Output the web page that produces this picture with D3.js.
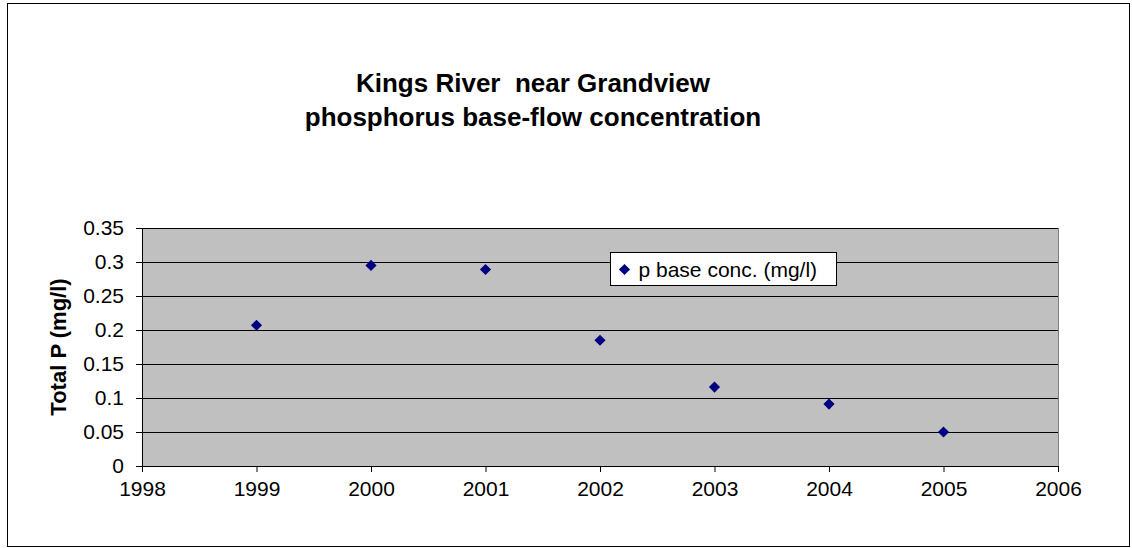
<!DOCTYPE html>
<html>
<head>
<meta charset="utf-8">
<script src="https://cdn.jsdelivr.net/npm/d3@7"></script>
<style>
  body { margin: 0; background: #fff; }
  text { font-family: "Liberation Sans", Arial, sans-serif; }
</style>
</head>
<body>
<div id="chart"></div>
<script>
// Data
var years = [1999, 2000, 2001, 2002, 2003, 2004, 2005];
var pBase = [0.207, 0.295, 0.289, 0.185, 0.116, 0.091, 0.050];
var xTicks = [1998, 1999, 2000, 2001, 2002, 2003, 2004, 2005, 2006];
var yTicks = [0, 0.05, 0.1, 0.15, 0.2, 0.25, 0.3, 0.35];
var titleLines = ["Kings River  near Grandview", "phosphorus base-flow concentration"];
var seriesName = "p base conc. (mg/l)";

var svgWidth = 1132;
var svgHeight = 548;

// plot area
var margin = { top: 228, right: 74, bottom: 82, left: 142 };
var width = svgWidth - margin.left - margin.right;
var height = svgHeight - margin.top - margin.bottom;

var svg = d3.select("#chart")
  .append("svg")
  .attr("width", svgWidth)
  .attr("height", svgHeight);

// outer chart border
svg.append("rect")
  .attr("x", 7.5)
  .attr("y", 3.5)
  .attr("width", 1122)
  .attr("height", 543)
  .attr("fill", "#fff")
  .attr("stroke", "#000")
  .attr("stroke-width", 1);

// title
svg.append("text")
  .attr("x", 533)
  .attr("y", 92)
  .attr("text-anchor", "middle")
  .style("font-size", "26px")
  .style("font-weight", "bold")
  .selectAll("tspan")
  .data(titleLines)
  .enter()
  .append("tspan")
  .attr("x", 533)
  .attr("dy", (d, i) => i === 0 ? 0 : 34)
  .attr("xml:space", "preserve")
  .text(d => d);

var chartGroup = svg.append("g")
  .attr("transform", `translate(${margin.left}, ${margin.top})`);

var xScale = d3.scaleLinear()
  .domain([1998, 2006])
  .range([0, width]);

var yScale = d3.scaleLinear()
  .domain([0, 0.35])
  .range([height, 0]);

// plot background
chartGroup.append("rect")
  .attr("width", width)
  .attr("height", height)
  .attr("fill", "#c0c0c0");

// gridlines
chartGroup.selectAll(".grid")
  .data(yTicks.filter(d => d > 0))
  .enter()
  .append("line")
  .attr("x1", 0)
  .attr("x2", width)
  .attr("y1", d => Math.round(yScale(d)) + 0.5)
  .attr("y2", d => Math.round(yScale(d)) + 0.5)
  .attr("stroke", "#000")
  .attr("stroke-width", 1);

// right edge of plot area
chartGroup.append("line")
  .attr("x1", width + 0.5).attr("x2", width + 0.5)
  .attr("y1", 0).attr("y2", height)
  .attr("stroke", "#808080");

// axes
var bottomAxis = d3.axisBottom(xScale)
  .tickValues(xTicks)
  .tickFormat(d3.format("d"))
  .tickSizeInner(6)
  .tickSizeOuter(0)
  .tickPadding(9);

var leftAxis = d3.axisLeft(yScale)
  .tickValues(yTicks)
  .tickFormat(d => d3.format("")(+d.toFixed(2)))
  .tickSizeInner(6)
  .tickSizeOuter(0)
  .tickPadding(12);

var xAxisG = chartGroup.append("g")
  .attr("transform", `translate(0, ${height})`)
  .call(bottomAxis);

var yAxisG = chartGroup.append("g")
  .call(leftAxis);

[xAxisG, yAxisG].forEach(function(g) {
  g.attr("font-size", null).attr("font-family", null);
  g.selectAll("path").attr("stroke", "#000");
  g.selectAll("line").attr("stroke", "#000");
  g.selectAll("text")
    .style("font-size", "21px")
    .style("font-family", "'Liberation Sans', Arial, sans-serif")
    .attr("fill", "#000");
});

// y axis title
chartGroup.append("text")
  .attr("transform", "rotate(-90)")
  .attr("x", -height / 2)
  .attr("y", -76)
  .attr("text-anchor", "middle")
  .style("font-size", "22px")
  .style("font-weight", "bold")
  .text("Total P (mg/l)");

// points
var diamond = d3.symbol().type(d3.symbolSquare).size(62);

chartGroup.selectAll(".pt")
  .data(years.map((y, i) => ({ year: y, value: pBase[i] })))
  .enter()
  .append("path")
  .attr("d", diamond)
  .attr("transform", d => `translate(${xScale(d.year)}, ${yScale(d.value)}) rotate(45)`)
  .attr("fill", "#000080");

// legend
var legend = svg.append("g")
  .attr("transform", "translate(610.5, 252.5)");

legend.append("rect")
  .attr("width", 226)
  .attr("height", 33)
  .attr("fill", "#fff")
  .attr("stroke", "#000");

legend.append("path")
  .attr("d", diamond)
  .attr("transform", "translate(14, 17) rotate(45)")
  .attr("fill", "#000080");

legend.append("text")
  .attr("x", 28)
  .attr("y", 24)
  .style("font-size", "21px")
  .text(seriesName);
</script>
</body>
</html>
